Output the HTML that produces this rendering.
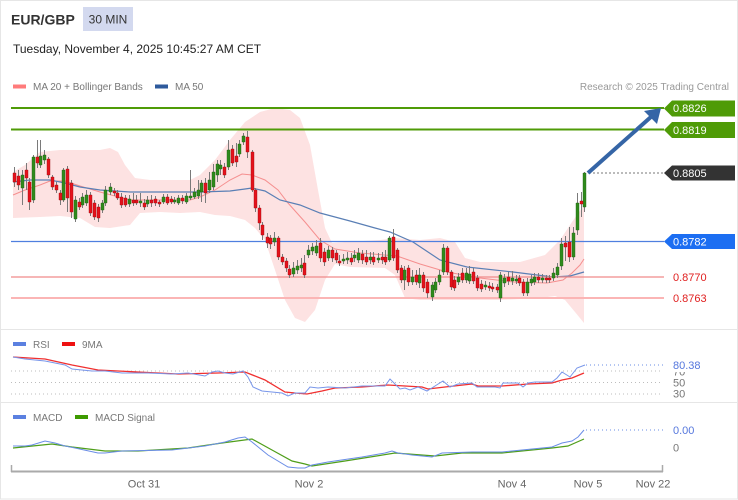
<!DOCTYPE html>
<html><head><meta charset="utf-8"><style>
html,body{margin:0;padding:0;background:#fff;}
svg{display:block;font-family:"Liberation Sans",Arial,sans-serif;}
</style></head><body>
<svg width="738" height="500" viewBox="0 0 738 500" xmlns="http://www.w3.org/2000/svg">
<rect x="0.5" y="0.5" width="737" height="498.5" fill="#fff" stroke="#e6e6e6"/>
<!-- header -->
<text x="11" y="24.5" font-size="14" font-weight="bold" fill="#333">EUR/GBP</text>
<rect x="83" y="7" width="50" height="24" fill="#d3d9ef"/>
<text x="108" y="23.5" font-size="12" fill="#333" text-anchor="middle">30 MIN</text>
<text x="13" y="53" font-size="12" fill="#222">Tuesday, November 4, 2025 10:45:27 AM CET</text>
<rect x="13" y="84.5" width="13" height="4" fill="#ff7b7b"/>
<text x="33" y="90" font-size="10" fill="#777">MA 20 + Bollinger Bands</text>
<rect x="155" y="84.5" width="13" height="4" fill="#2e5a9c"/>
<text x="175" y="90" font-size="10" fill="#777">MA 50</text>
<text x="729" y="90" font-size="10" fill="#999" text-anchor="end">Research © 2025 Trading Central</text>

<!-- bollinger band -->
<path fill="#fde2e2" d="M13,172 L25,165 L40,152 L60,150 L100,150 L110,148 L118,152 L125,165 L135,178 L150,180 L190,180 L200,175 L215,160 L230,140 L245,122 L260,112 L275,108 L290,110 L300,118 L310,145 L318,190 L325,228 L332,243 L345,242 L380,240 L395,238 L420,240 L440,238 L455,242 L465,258 L480,262 L520,262 L545,255 L560,240 L572,222 L584,205 L584,323 L575,312 L565,300 L555,296 L540,298 L500,300 L460,300 L420,300 L405,298 L395,275 L385,268 L350,267 L335,264 L325,280 L315,310 L305,322 L295,318 L285,300 L275,270 L265,240 L255,228 L245,220 L230,216 L215,215 L200,212 L180,213 L160,212 L140,213 L130,225 L110,228 L95,227 L80,218 L60,216 L40,217 L13,218 Z"/>
<!-- MA lines -->
<path fill="none" stroke="#f58f8f" stroke-width="1" d="M13,195 L25,190 L40,185 L50,181 L65,181 L80,186 L100,192 L130,200 L190,200 L200,197 L215,190 L230,180 L242,174 L252,175 L265,180 L278,190 L288,203 L305,222 L320,240 L335,249 L360,253 L397,256 L420,264 L447,272 L480,278 L513,282 L547,283 L563,280 L572,273 L580,265 L584,259"/>
<path fill="none" stroke="#5a7fb5" stroke-width="1.2" d="M13,182 L30,180 L50,180 L65,183 L80,187 L100,190 L130,192 L200,192 L230,191 L245,189 L252,188 L265,191 L280,200 L300,205 L320,213 L350,221 L375,228 L390,232 L413,242 L440,260 L467,267 L513,272 L553,277 L570,276 L584,272"/>

<!-- horizontal levels -->
<line x1="11" y1="108" x2="664" y2="108" stroke="#4f9b07" stroke-width="2"/>
<line x1="11" y1="129.5" x2="664" y2="129.5" stroke="#4f9b07" stroke-width="2"/>
<line x1="11" y1="241.5" x2="664" y2="241.5" stroke="#4f7fdf" stroke-width="1.3"/>
<line x1="11" y1="277" x2="664" y2="277" stroke="#f08a8a" stroke-width="1.3"/>
<line x1="11" y1="298" x2="664" y2="298" stroke="#fbb5b5" stroke-width="2"/>
<line x1="589" y1="173" x2="664" y2="173" stroke="#777" stroke-width="1" stroke-dasharray="2,2"/>

<!-- candles -->
<path fill="none" stroke="#7a7a7a" stroke-width="1" d="M14.5 167V187M18.5 170V190M22.5 170V205M26.5 163V190M29.5 178V210M33.5 155V203M37.5 140V168M40.5 140V168M44.5 150V164M48.5 157V178M52.5 175V190M56.5 182V193M60.5 190V205M63.5 168V202M67.5 166V212M71.5 180V218M75.5 196V222M79.5 198V210M82.5 193V208M86.5 190V206M90.5 192V216M94.5 200V220M98.5 204V222M102.5 200V213M105.5 186V206M110.5 183V195M114.5 188V196M117.5 190V200M121.5 193V208M125.5 195V207M129.5 195V207M133.5 193V206M136.5 195V205M140.5 193V207M144.5 199V210M147.5 196V207M151.5 195V207M155.5 196V206M159.5 200V207M163.5 194V204M167.5 194V205M171.5 196V204M174.5 197V204M178.5 195V205M182.5 195V204M186.5 193V204M190.5 170V200M194.5 188V199M198.5 180V199M201.5 180V202M205.5 178V203M209.5 172V193M213.5 164V190M217.5 160V182M220.5 160V175M224.5 163V178M228.5 140V170M232.5 145V166M236.5 143V167M239.5 140V157M243.5 133V145M247.5 131V158M252.5 150V192M255.5 188V212M259.5 205V230M262.5 222V240M267.5 233V248M270.5 235V249M274.5 232V246M278.5 236V260M282.5 254V265M286.5 258V272M289.5 265V278M293.5 262V277M297.5 260V274M301.5 258V272M304.5 255V278M308.5 245V258M312.5 243V255M316.5 240V256M320.5 238V262M324.5 248V266M328.5 246V261M332.5 247V262M336.5 250V263M339.5 255V266M343.5 254V264M347.5 252V264M351.5 253V265M354.5 250V262M358.5 248V263M362.5 250V264M366.5 250V265M370.5 252V264M373.5 252V265M378.5 253V263M382.5 252V264M385.5 250V265M389.5 236V262M393.5 229V261M397.5 248V273M401.5 265V283M404.5 266V290M408.5 265V286M412.5 270V285M416.5 270V285M419.5 268V288M423.5 272V292M427.5 279V298M432.5 282V301M435.5 278V293M439.5 270V285M443.5 244V275M447.5 246V275M451.5 270V290M454.5 276V291M458.5 273V285M462.5 268V283M466.5 268V283M469.5 266V284M473.5 268V284M477.5 275V291M481.5 280V292M485.5 281V290M489.5 282V291M492.5 283V292M497.5 284V293M500.5 272V302M504.5 274V287M508.5 272V285M512.5 271V285M516.5 275V284M519.5 275V286M523.5 279V296M527.5 278V296M531.5 275V286M534.5 273V285M538.5 273V283M542.5 274V283M546.5 275V283M549.5 275V283M553.5 268V281M557.5 263V278M561.5 238V270M565.5 236V261M569.5 227V262M573.5 227V260M577.5 193V235M581.5 192V217M584.5 172V212"/>
<path fill="#2f8a1c" stroke="#1f5f12" stroke-width="0.4" d="M21 175h3V188h-3zM32 157h3V200h-3zM39 156h3V165h-3zM43 155h3V160h-3zM62 170h3V200h-3zM74 200h3V219h-3zM81 197h3V205h-3zM85 195h3V203h-3zM101 203h3V210h-3zM104 190h3V203h-3zM109 187h3V192h-3zM128 199h3V204h-3zM139 201h3V203h-3zM146 200h3V204h-3zM162 197h3V202h-3zM173 200h3V202h-3zM177 198h3V203h-3zM185 196h3V202h-3zM189 196h3V198h-3zM193 192h3V197h-3zM197 190h3V196h-3zM200 183h3V192h-3zM208 180h3V190h-3zM212 172h3V187h-3zM216 164h3V175h-3zM219 165h3V169h-3zM227 150h3V167h-3zM238 144h3V154h-3zM242 136h3V142h-3zM273 238h3V242h-3zM292 268h3V274h-3zM296 266h3V270h-3zM300 265h3V268h-3zM307 250h3V255h-3zM311 247h3V251h-3zM315 246h3V253h-3zM327 250h3V258h-3zM342 259h3V261h-3zM346 258h3V260h-3zM353 255h3V258h-3zM357 253h3V260h-3zM369 257h3V260h-3zM377 258h3V260h-3zM388 238h3V260h-3zM403 270h3V280h-3zM411 277h3V282h-3zM418 275h3V283h-3zM431 285h3V297h-3zM434 282h3V290h-3zM438 275h3V282h-3zM442 248h3V272h-3zM457 277h3V282h-3zM465 273h3V280h-3zM468 274h3V281h-3zM484 285h3V287h-3zM499 275h3V298h-3zM503 278h3V283h-3zM511 278h3V281h-3zM515 279h3V281h-3zM526 282h3V293h-3zM530 279h3V283h-3zM533 277h3V282h-3zM541 278h3V280h-3zM552 273h3V278h-3zM556 267h3V275h-3zM560 244h3V266h-3zM572 233h3V257h-3zM576 203h3V230h-3zM583 173h3V207h-3z"/>
<path fill="#e5121b" stroke="#9a0d12" stroke-width="0.4" d="M13 173h3V182h-3zM17 176h3V185h-3zM25 170h3V178h-3zM28 182h3V202h-3zM36 157h3V163h-3zM47 159h3V175h-3zM51 177h3V187h-3zM55 185h3V190h-3zM59 193h3V200h-3zM66 169h3V198h-3zM70 183h3V212h-3zM78 202h3V207h-3zM89 195h3V213h-3zM93 203h3V217h-3zM97 207h3V218h-3zM113 191h3V193h-3zM116 193h3V198h-3zM120 197h3V205h-3zM124 198h3V205h-3zM132 200h3V203h-3zM135 200h3V203h-3zM143 203h3V207h-3zM150 200h3V203h-3zM154 199h3V203h-3zM158 202h3V204h-3zM166 197h3V203h-3zM170 199h3V202h-3zM181 198h3V201h-3zM204 183h3V193h-3zM223 167h3V175h-3zM231 149h3V163h-3zM235 156h3V162h-3zM246 137h3V152h-3zM251 152h3V190h-3zM254 190h3V208h-3zM258 208h3V223h-3zM261 225h3V235h-3zM266 237h3V243h-3zM269 238h3V244h-3zM277 238h3V257h-3zM281 257h3V262h-3zM285 261h3V268h-3zM288 269h3V275h-3zM303 263h3V275h-3zM319 243h3V258h-3zM323 252h3V262h-3zM331 250h3V258h-3zM335 253h3V260h-3zM338 261h3V263h-3zM350 258h3V262h-3zM361 254h3V260h-3zM365 257h3V262h-3zM372 257h3V262h-3zM381 257h3V260h-3zM384 257h3V262h-3zM392 237h3V258h-3zM396 250h3V270h-3zM400 268h3V280h-3zM407 268h3V282h-3zM415 275h3V282h-3zM422 275h3V288h-3zM426 282h3V293h-3zM446 248h3V272h-3zM450 272h3V287h-3zM453 280h3V288h-3zM461 273h3V280h-3zM472 272h3V281h-3zM476 278h3V288h-3zM480 284h3V289h-3zM488 286h3V288h-3zM491 287h3V289h-3zM496 287h3V290h-3zM507 277h3V281h-3zM518 278h3V283h-3zM522 282h3V293h-3zM537 277h3V280h-3zM545 278h3V280h-3zM548 278h3V280h-3zM564 243h3V247h-3zM568 242h3V257h-3zM580 201h3V204h-3z"/>

<!-- arrow -->
<line x1="588" y1="173" x2="652" y2="116" stroke="#3565a6" stroke-width="4"/>
<polygon points="661,108 644,111 657,124" fill="#3565a6"/>

<!-- price tags -->
<polygon points="664,108.5 672,100.5 735,100.5 735,116.5 672,116.5" fill="#4f9b07"/>
<text x="673" y="112" font-size="11" fill="#fff">0.8826</text>
<polygon points="664,130 672,122 735,122 735,138 672,138" fill="#4f9b07"/>
<text x="673" y="134" font-size="11" fill="#fff">0.8819</text>
<polygon points="664,173 672,165.5 735,165.5 735,180.5 672,180.5" fill="#333"/>
<text x="673" y="177" font-size="11" fill="#fff">0.8805</text>
<polygon points="664,241.5 672,234 735,234 735,249 672,249" fill="#1c6ef2"/>
<text x="673" y="245.5" font-size="11" fill="#fff">0.8782</text>
<text x="673" y="281" font-size="11" fill="#e02020">0.8770</text>
<text x="673" y="302" font-size="11" fill="#e02020">0.8763</text>

<!-- separators -->
<line x1="0" y1="329.5" x2="738" y2="329.5" stroke="#e6e6e6"/>
<line x1="0" y1="402.5" x2="738" y2="402.5" stroke="#e6e6e6"/>

<!-- RSI panel -->
<rect x="13" y="342" width="13" height="4" fill="#5b80e0"/>
<text x="33" y="348" font-size="10" fill="#777">RSI</text>
<rect x="62" y="342" width="13" height="4" fill="#ee1111"/>
<text x="82" y="348" font-size="10" fill="#777">9MA</text>
<g stroke="#bdbdbd" stroke-width="1" stroke-dasharray="1,3">
<line x1="11" y1="371" x2="663" y2="371"/>
<line x1="11" y1="382.5" x2="663" y2="382.5"/>
<line x1="11" y1="394" x2="663" y2="394"/>
</g>
<path fill="none" stroke="#f03030" stroke-width="1.3" d="M13,357 L45,359 L72,365 L98,370 L138,372 L178,374 L218,373 L245,372 L265,380 L285,392 L295,393 L307,394 L322,391 L335,388 L362,387 L388,385 L422,387 L428,389 L445,387 L472,384 L478,386 L502,386 L528,384 L552,383 L562,380 L572,378 L584,373"/>
<path fill="none" stroke="#7896ea" stroke-width="1" d="M13,357 L25,359 L45,361 L65,365 L72,369 L92,371 L105,371 L122,373 L148,373 L172,374 L188,373 L205,376 L212,372 L218,371 L225,373 L233,374 L243,371 L248,377 L253,387 L262,391 L272,392 L282,393 L288,396 L295,393 L305,393 L310,387 L318,388 L328,387 L345,388 L362,386 L385,386 L390,379 L400,389 L405,388 L410,390 L418,387 L427,391 L435,386 L443,381 L450,387 L458,384 L472,383 L477,387 L495,387 L500,388 L503,383 L518,383 L523,387 L528,383 L535,382 L552,382 L557,378 L562,372 L570,377 L577,368 L585,365"/>
<line x1="586" y1="365" x2="663" y2="365" stroke="#6a8de6" stroke-width="1" stroke-dasharray="1,3"/>
<text x="673" y="375.5" font-size="11" fill="#777">70</text>
<rect x="668" y="357" width="40" height="15" fill="#fff"/>
<text x="673" y="369" font-size="11" fill="#5577dd">80.38</text>
<text x="673" y="386.5" font-size="11" fill="#777">50</text>
<text x="673" y="397.5" font-size="11" fill="#777">30</text>

<!-- MACD panel -->
<rect x="13" y="415" width="13" height="4" fill="#5b80e0"/>
<text x="33" y="421" font-size="10" fill="#777">MACD</text>
<rect x="75" y="415" width="13" height="4" fill="#3d9a00"/>
<text x="95" y="421" font-size="10" fill="#777">MACD Signal</text>
<path fill="none" stroke="#4f9e1a" stroke-width="1.2" d="M13,448 L52,444 L72,447 L105,451 L138,451 L188,448 L222,443 L252,439 L272,450 L292,461 L305,464 L312,466 L345,461 L395,453 L435,456 L462,453 L502,453 L552,448 L568,446 L584,439"/>
<path fill="none" stroke="#6a8de6" stroke-width="1" d="M13,446 L25,446 L32,445 L45,441 L55,443 L65,446 L75,448 L98,453 L105,453 L122,451 L172,450 L205,446 L225,442 L238,438 L245,437 L252,442 L268,455 L288,467 L298,468 L305,468 L312,465 L328,462 L362,457 L385,453 L392,451 L398,453 L412,455 L432,457 L442,453 L472,452 L502,452 L522,450 L552,447 L562,443 L572,441 L578,437 L584,430"/>
<line x1="586" y1="430" x2="663" y2="430" stroke="#6a8de6" stroke-width="1" stroke-dasharray="1,3"/>
<text x="673" y="434" font-size="11" fill="#5577dd">0.00</text>
<text x="673" y="451.5" font-size="11" fill="#777">0</text>

<!-- x axis -->
<line x1="11" y1="471.5" x2="663" y2="471.5" stroke="#aaa" stroke-width="2"/>
<line x1="11.5" y1="465" x2="11.5" y2="472" stroke="#aaa" stroke-width="1.5"/>
<line x1="662.5" y1="465" x2="662.5" y2="472" stroke="#aaa" stroke-width="1.5"/>
<g font-size="11" fill="#666" text-anchor="middle">
<text x="144" y="487.5">Oct 31</text>
<text x="309" y="487.5">Nov 2</text>
<text x="512" y="487.5">Nov 4</text>
<text x="588" y="487.5">Nov 5</text>
<text x="653" y="487.5">Nov 22</text>
</g>
</svg>
</body></html>
